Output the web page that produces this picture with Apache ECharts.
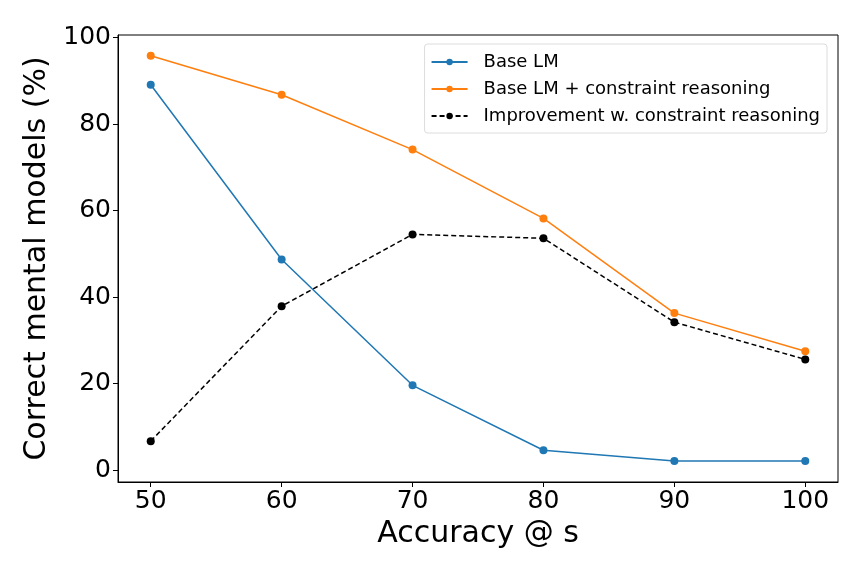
<!DOCTYPE html>
<html>
<head>
<meta charset="utf-8">
<script src="https://cdn.jsdelivr.net/npm/echarts@6/dist/echarts.min.js"></script>
<style>html,body{margin:0;padding:0;background:#fff}#c{width:864px;height:576px}</style>
</head>
<body>
<div id="c"></div>
<script>
const xValues = [50, 60, 70, 80, 90, 100];
const baseLM = [89.1, 48.7, 19.6, 4.6, 2.1, 2.1];
const baseLMConstraint = [95.8, 86.8, 74.1, 58.2, 36.3, 27.5];
const improvement = [6.7, 37.9, 54.5, 53.6, 34.2, 25.6];
const xTicks = [50, 60, 70, 80, 90, 100];
const yTicks = [0, 20, 40, 60, 80, 100];

const pairs = arr => xValues.map((x, i) => [x, arr[i]]);
const FONT = 'DejaVu Sans';
const chart = echarts.init(document.getElementById('c'), null, {renderer: 'canvas'});
chart.setOption({
  animation: false,
  backgroundColor: '#fff',
  textStyle: {fontFamily: FONT},
  grid: {left: 118, right: 26, top: 35, bottom: 94, show: true, borderColor: '#000', borderWidth: 1, backgroundColor: 'transparent'},
  legend: {
    orient: 'vertical', right: 37, top: 44,
    itemWidth: 36, itemHeight: 8, itemGap: 9,
    padding: [9, 7, 8, 6],
    backgroundColor: '#fff', borderColor: '#dcdcdc', borderWidth: 1, borderRadius: 3,
    textStyle: {fontFamily: FONT, fontSize: 18, color: '#000', padding: [0, 0, 0, 11]},
    data: ['Base LM', 'Base LM + constraint reasoning', 'Improvement w. constraint reasoning']
  },
  xAxis: {
    type: 'value', min: 47.5, max: 102.5,
    name: 'Accuracy @ s', nameLocation: 'middle', nameGap: 37,
    nameTextStyle: {fontFamily: FONT, fontSize: 30, color: '#000'},
    axisLine: {show: true, onZero: false, lineStyle: {color: '#000', width: 1}},
    axisTick: {show: true, inside: false, length: 5, lineStyle: {color: '#000'}, customValues: xTicks},
    axisLabel: {fontFamily: FONT, fontSize: 25, color: '#000', margin: 7, customValues: xTicks},
    splitLine: {show: false}
  },
  yAxis: {
    type: 'value', min: -2.75, max: 100.6,
    name: 'Correct mental models (%)', nameLocation: 'middle', nameGap: 63,
    nameTextStyle: {fontFamily: FONT, fontSize: 30, color: '#000'},
    axisLine: {show: true, onZero: false, lineStyle: {color: '#000', width: 1}},
    axisTick: {show: true, inside: false, length: 5, lineStyle: {color: '#000'}, customValues: yTicks},
    axisLabel: {fontFamily: FONT, fontSize: 25, color: '#000', margin: 7, customValues: yTicks},
    splitLine: {show: false}
  },
  series: [
    {name: 'Base LM', type: 'line', data: pairs(baseLM), symbol: 'circle', symbolSize: 8,
     itemStyle: {color: '#1f77b4'}, lineStyle: {color: '#1f77b4', width: 1.5}},
    {name: 'Base LM + constraint reasoning', type: 'line', data: pairs(baseLMConstraint), symbol: 'circle', symbolSize: 8,
     itemStyle: {color: '#ff7f0e'}, lineStyle: {color: '#ff7f0e', width: 1.5}},
    {name: 'Improvement w. constraint reasoning', type: 'line', data: pairs(improvement), symbol: 'circle', symbolSize: 8,
     itemStyle: {color: '#000'}, lineStyle: {color: '#000', width: 1.5, type: [5, 3]}}
  ]
});
</script>
</body>
</html>
